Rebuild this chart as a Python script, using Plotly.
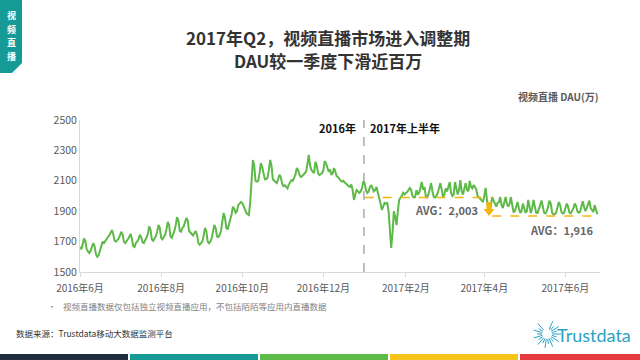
import math
import pandas as pd
import plotly.graph_objects as go

# ---------------- data ----------------
start_date = "2016-06-01"
dau = [
    1665, 1650, 1680, 1720, 1705, 1650, 1635,
    1625, 1640, 1660, 1690, 1670, 1615, 1600,
    1610, 1640, 1665, 1700, 1690, 1705, 1720,
    1730, 1740, 1755, 1775, 1750, 1705, 1700,
    1710, 1720, 1740, 1765, 1750, 1700, 1690,
    1700, 1715, 1730, 1750, 1720, 1670, 1665,
    1690, 1700, 1715, 1745, 1730, 1695, 1690,
    1710, 1725, 1750, 1800, 1780, 1715, 1705,
    1720, 1735, 1765, 1810, 1790, 1725, 1715,
    1730, 1745, 1780, 1830, 1810, 1735, 1725,
    1750, 1770, 1810, 1860, 1840, 1770, 1765,
    1790, 1800, 1825, 1855, 1840, 1770, 1760,
    1750, 1740, 1755, 1770, 1745, 1690, 1680,
    1690, 1700, 1740, 1790, 1770, 1700, 1690,
    1700, 1720, 1760, 1810, 1790, 1735, 1730,
    1745, 1770, 1820, 1888, 1860, 1790, 1780,
    1810, 1840, 1880, 1930, 1915, 1890, 1900,
    1940, 1950, 1960, 1955, 1930, 1905, 1890,
    1880, 1875, 1960, 2100, 2237, 2200, 2100,
    2095, 2100, 2150, 2217, 2190, 2138, 2110,
    2110, 2120, 2170, 2237, 2200, 2110, 2100,
    2090, 2085, 2110, 2140, 2125, 2080, 2065,
    2070, 2060, 2050, 2075, 2090, 2105, 2100,
    2120, 2140, 2184, 2170, 2140, 2125, 2130,
    2140, 2150, 2160, 2210, 2270, 2200, 2171,
    2160, 2150, 2224, 2200, 2150, 2138, 2145,
    2150, 2170, 2230, 2215, 2180, 2160, 2175,
    2138, 2150, 2184, 2160, 2130, 2125, 2110,
    2100, 2095, 2100, 2090, 2080, 2072, 2065,
    2060, 2075, 2040, 1974, 2010, 2039, 2030,
    2020, 2030, 2050, 2095, 2085, 2040, 2020,
    2030, 2060, 2072, 2050, 2030, 2040, 2060,
    2020, 1990, 1950, 1908, 1940, 1955, 1950,
    1954, 1900, 1780, 1658, 1760, 1900, 1860,
    1809, 1900, 1974, 1990, 2000, 2020, 2010,
    2020, 2026, 2040, 2053, 2040, 2000, 1990,
    1993, 2039, 2010, 2020, 2050, 2092, 2040,
    2060, 2000, 1990, 2010, 2040, 2085, 2030,
    1995, 1990, 2000, 2020, 2050, 2085, 2040,
    1993, 2010, 2050, 2030, 2060, 2092, 2020,
    2000, 2010, 2092, 2050, 2010, 2040, 2105,
    2030, 2010, 2050, 2085, 2040, 2030, 2100,
    2060, 2050, 2072, 2060, 2040, 2000, 1990,
    1980, 1974, 1961, 2000, 2053, 1974, 1900,
    1888, 1940, 1993, 1970, 1950, 1930, 1954,
    1960, 1993, 1940, 1921, 1960, 1993, 1950,
    1930, 1950, 1993, 1940, 1895, 1900, 1940,
    1960, 1920, 1888, 1900, 1950, 1920, 1890,
    1900, 1974, 1930, 1888, 1920, 1974, 1930,
    1890, 1888, 1910, 1940, 1970, 1920, 1890,
    1885, 1900, 1930, 1970, 1950, 1890, 1880,
    1880, 1890, 1920, 1960, 1940, 1895, 1885,
    1890, 1920, 1950, 1930, 1890, 1885, 1900,
    1920, 1950, 1935, 1900, 1890, 1895, 1930,
    1965, 1930, 1900, 1920, 1950, 1970, 1920,
    1910, 1895, 1940, 1900, 1880,
]
dates = pd.date_range(start_date, periods=len(dau), freq="D")

tick_dates = ["2016-06-01", "2016-08-01", "2016-10-01", "2016-12-01",
              "2017-02-01", "2017-04-01", "2017-06-01"]
tick_labels = ["2016年6月", "2016年8月", "2016年10月", "2016年12月",
               "2017年2月", "2017年4月", "2017年6月"]
y_ticks = [1500, 1700, 1900, 2100, 2300, 2500]

divider_date = "2016-12-31T12:00"
q1_span = ["2017-01-01", "2017-04-07"]
q2_span = ["2017-04-07", "2017-06-25"]
q1_line_level = 1990
q2_line_level = 1868
q1_label = "AVG：2,003"
q2_label = "AVG：1,916"

# ---------------- layout helpers ----------------
W, H = 640, 360
L, R, T, B = 80, 40, 120, 88
PW, PH = W - L - R, H - T - B


def px(x):
    return (x - L) / PW


def py(y):
    return (H - B - y) / PH


def poly(points):
    return "M " + " L ".join(f"{px(a)},{py(b)}" for a, b in points) + " Z"


CJK = "Noto Sans CJK SC"
GREEN = "#5db948"
ORANGE = "#f5b50a"
GRAY = "#595959"

fig = go.Figure()
fig.add_trace(go.Scatter(x=dates, y=dau, mode="lines",
                         line=dict(color=GREEN, width=2), hoverinfo="skip"))

shapes = []
annotations = []

# average dashed lines
for span, lvl in [(q1_span, q1_line_level), (q2_span, q2_line_level)]:
    shapes.append(dict(type="line", xref="x", yref="y", x0=span[0], x1=span[1],
                       y0=lvl, y1=lvl, line=dict(color=ORANGE, width=1.5, dash="dash")))

# divider
shapes.append(dict(type="line", xref="x", yref="y", x0=divider_date, x1=divider_date,
                   y0=1500, y1=2515, line=dict(color="#808080", width=1, dash="dash")))

# down arrow (decoration)
shapes.append(dict(type="path", xref="paper", yref="paper",
                   path=poly([(486.5, 202), (491.5, 202), (491.5, 209), (494.5, 209),
                              (489, 216), (483.5, 209), (486.5, 209)]),
                   fillcolor=ORANGE, line=dict(width=0)))

# left tab
shapes.append(dict(type="path", xref="paper", yref="paper",
                   path=poly([(0, 0), (22, 0), (22, 63), (12, 73), (0, 73)]),
                   fillcolor="#159a95", line=dict(width=0)))

# bottom colour bar
bar_cols = ["#1f2d3d", "#159a95", "#5db948", "#f5c31a", "#e53a3f"]
bar_x = [0, 130, 260, 390, 520, 640]
for i, c in enumerate(bar_cols):
    shapes.append(dict(type="rect", xref="paper", yref="paper",
                       x0=px(bar_x[i]), x1=px(bar_x[i + 1] - (2 if i < 4 else 0)),
                       y0=py(360), y1=py(354), fillcolor=c, line=dict(width=0)))

# logo rays (decoration)
cx, cy = 547, 334
for k in range(22):
    if 5 <= k <= 7:
        continue
    a = 2 * math.pi * k / 22
    r1 = 5
    r2 = 14 if k % 2 == 0 else 10
    shapes.append(dict(type="line", xref="paper", yref="paper",
                       x0=px(cx + r1 * math.cos(a)), y0=py(cy - r1 * math.sin(a)),
                       x1=px(cx + r2 * math.cos(a)), y1=py(cy - r2 * math.sin(a)),
                       line=dict(color="#2aa3c4", width=1)))


def txt(x, y, text, size, color, anchor="center", family=CJK, **kw):
    d = dict(xref="paper", yref="paper", x=px(x), y=py(y), xanchor=anchor,
             yanchor="middle", showarrow=False, text=text,
             font=dict(family=family, size=size, color=color))
    d.update(kw)
    return d


for i, ch in enumerate("视频直播"):
    annotations.append(txt(11, 15.5 + 13.5 * i, f"<b>{ch}</b>", 9, "white"))

annotations += [
    txt(328, 37, "<b>2017年Q2，视频直播市场进入调整期</b>", 17, "#333333"),
    txt(328, 60, "<b>DAU较一季度下滑近百万</b>", 17, "#333333"),
    txt(601, 97, "<b>视频直播 DAU(万)</b>", 10, GRAY, anchor="right"),
    txt(358, 128, "<b>2016年</b>", 11, "#111111", anchor="right"),
    txt(368, 128, "<b>2017年上半年</b>", 11, "#111111", anchor="left"),
    txt(413, 210, f"<b>{q1_label}</b>", 11, "#666666", anchor="left"),
    txt(528, 230, f"<b>{q2_label}</b>", 11, "#666666", anchor="left"),
    txt(46, 306, "•", 8, "#7f7f7f", anchor="left"),
    txt(61, 306, "视频直播数据仅包括独立视频直播应用，不包括陌陌等应用内直播数据", 8.5, "#7f7f7f",
        anchor="left"),
    txt(14, 333, "数据来源：Trustdata移动大数据监测平台", 8.5, "#333333", anchor="left"),
    txt(555, 335, "Trustdata", 18, "#2aa3c4", anchor="left", family="Lato"),
]

fig.update_layout(
    width=W, height=H, margin=dict(l=L, r=R, t=T, b=B),
    paper_bgcolor="white", plot_bgcolor="white", showlegend=False,
    shapes=shapes, annotations=annotations,
    xaxis=dict(range=["2016-06-01", "2017-06-27"], tickvals=tick_dates, ticktext=tick_labels,
               showgrid=False, showline=True, linecolor="#d9d9d9", linewidth=1,
               ticks="outside", tickcolor="#d9d9d9", ticklen=4, zeroline=False,
               ticklabelstandoff=3,
               tickfont=dict(family=CJK, size=10, color=GRAY)),
    yaxis=dict(range=[1500, 2500], tickvals=y_ticks, showgrid=False, showline=True,
               linecolor="#d9d9d9", linewidth=1, zeroline=False, ticks="",
               tickfont=dict(family=CJK, size=10.5, color=GRAY)),
)

fig.write_html("out.html", config={"displayModeBar": False},
               post_script="document.body.style.margin='0';")
